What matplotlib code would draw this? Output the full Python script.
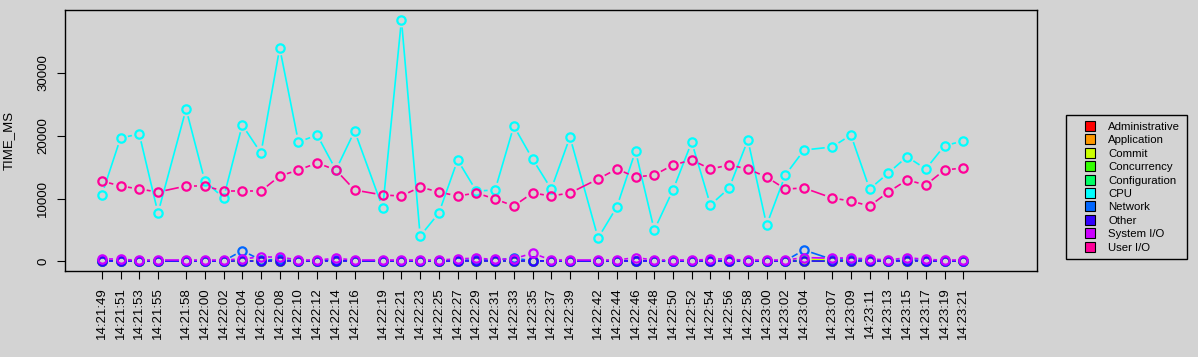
import matplotlib
matplotlib.use('Agg')
import matplotlib.pyplot as plt
from matplotlib.lines import Line2D
import numpy as np

plt.rcParams['font.family'] = ['Liberation Sans', 'DejaVu Sans']

times = ['14:21:49', '14:21:51', '14:21:53', '14:21:55', '14:21:58', '14:22:00', '14:22:02',
         '14:22:04', '14:22:06', '14:22:08', '14:22:10', '14:22:12', '14:22:14', '14:22:16',
         '14:22:19', '14:22:21', '14:22:23', '14:22:25', '14:22:27', '14:22:29', '14:22:31',
         '14:22:33', '14:22:35', '14:22:37', '14:22:39', '14:22:42', '14:22:44', '14:22:46',
         '14:22:48', '14:22:50', '14:22:52', '14:22:54', '14:22:56', '14:22:58', '14:23:00',
         '14:23:02', '14:23:04', '14:23:07', '14:23:09', '14:23:11', '14:23:13', '14:23:15',
         '14:23:17', '14:23:19', '14:23:21']

administrative = [0] * 45
application = [0] * 45
commit = [0, 0, 0, 0, 0, 0, 0, 0, 200, 250, 0, 0, 0, 0, 0, 0, 0, 0, 0, 0, 0, 0, 0,
          0, 0, 0, 0, 0, 0, 0, 0, 0, 0, 0, 0, 0, 300, 250, 0, 0, 0, 0, 0, 0, 0]
concurrency = [0] * 45
configuration = [0] * 45
cpu = [10560, 19630, 20270, 7690, 24250, 12790, 10080, 21700, 17240, 33970,
       18990, 20110, 14540, 20750, 8490, 38420, 4030, 7690, 16130, 11190,
       11350, 21540, 16290, 11510, 19790, 3710, 8650, 17560, 4980, 11350,
       18990, 8960, 11670, 19320, 5780, 13740, 17720, 18200, 20110, 11510,
       14060, 16650, 14700, 18410, 19150]
network = [100, 100, 50, 50, 50, 50, 50, 1700, 200, 300, 50, 100, 200, 50, 100,
           50, 50, 50, 100, 300, 200, 500, 100, 50, 50, 50, 50, 100, 100, 50,
           50, 100, 100, 50, 50, 100, 1800, 300, 300, 200, 50, 300, 100, 50, 50]
other = [30, 30, 30, 30, 30, 30, 30, 60, 30, 30, 30, 30, 30, 30, 30, 30, 30, 30, 30,
         30, 30, 30, 30, 30, 30, 30, 30, 30, 30, 30, 30, 30, 30, 30, 30, 30, 60, 30,
         30, 30, 30, 30, 30, 30, 30]
system_io = [300, 300, 200, 200, 200, 200, 200, 400, 700, 700, 200, 200, 500, 200, 200,
             200, 200, 200, 400, 500, 300, 400, 1300, 200, 200, 200, 200, 600, 200, 200,
             200, 300, 300, 200, 200, 200, 600, 500, 500, 400, 200, 600, 300, 200, 200]
user_io = [12790, 11990, 11510, 11030, 11990, 11990, 11190, 11190, 11190, 13580,
           14540, 15650, 14540, 11350, 10560, 10400, 11830, 11030, 10400, 10880,
           9920, 8810, 10880, 10400, 10880, 13100, 14700, 13420, 13740, 15330,
           16130, 14700, 15330, 14700, 13420, 11510, 11670, 10080, 9600, 8810,
           11030, 12950, 12150, 14540, 14860]

labels = ['Administrative', 'Application', 'Commit', 'Concurrency', 'Configuration',
          'CPU', 'Network', 'Other', 'System I/O', 'User I/O']
series = [administrative, application, commit, concurrency, configuration,
          cpu, network, other, system_io, user_io]
colors = ['#FF0000', '#FF9900', '#CCFF00', '#33FF00', '#00FF66',
          '#00FFFF', '#0066FF', '#3300FF', '#CC00FF', '#FF0099']

# seconds since first sample
def to_sec(t):
    h, m, s = [int(p) for p in t.split(':')]
    return h * 3600 + m * 60 + s
secs = np.array([to_sec(t) for t in times]) - to_sec(times[0])

bg = '#D3D3D3'
fig = plt.figure(figsize=(11.98, 3.57), dpi=100, facecolor=bg)
ax = fig.add_axes([0.0545, 0.2409, 0.8109, 0.7303], facecolor=bg)

ymax = max(max(s) for s in series)
ax.set_xlim(-3.9, 99.85)
ax.set_ylim(-0.04 * ymax, 1.04 * ymax)


# R type="b": lines stop short of each point
def gapped(x, y, color, gap=7.5):
    pts = ax.transData.transform(np.column_stack([x, y]))
    inv = ax.transData.inverted()
    for p0, p1 in zip(pts[:-1], pts[1:]):
        d = p1 - p0
        L = np.hypot(d[0], d[1])
        if L <= 2 * gap:
            continue
        u = d / L
        a, b = inv.transform(np.array([p0 + u * gap, p1 - u * gap]))
        ax.plot([a[0], b[0]], [a[1], b[1]], color=color, lw=1.2, solid_capstyle='butt')


for vals, col in zip(series, colors):
    gapped(secs, np.array(vals, dtype=float), col)
    ax.plot(secs, vals, linestyle='none', marker='o', markersize=6,
            markerfacecolor='none', markeredgecolor=col, markeredgewidth=1.6)

ax.set_xticks(secs)
ax.set_xticklabels(times, rotation=90, fontsize=9.5)
ax.set_yticks([0, 10000, 20000, 30000])
ax.set_yticklabels(['0', '10000', '20000', '30000'], rotation=90, va='center', fontsize=9.5)
ax.tick_params(direction='out', length=5.5, width=0.8, pad=6, colors='black')
for sp in ax.spines.values():
    sp.set_linewidth(1.0)
    sp.set_color('black')

fig.text(8.5 / 1198, 0.606, 'TIME_MS', rotation=90, ha='center', va='center', fontsize=9.5)

handles = [Line2D([], [], linestyle='none', marker='s', markersize=6.5,
                  markerfacecolor=c, markeredgecolor='black', markeredgewidth=0.8)
           for c in colors]
leg = fig.legend(handles, labels, loc='upper left', bbox_to_anchor=(1066 / 1198, 1 - 115 / 357),
                 borderaxespad=0, fontsize=8.2, frameon=True, fancybox=False,
                 edgecolor='black', facecolor=bg, framealpha=1, borderpad=0.6,
                 handlelength=3.0, handletextpad=0.1, labelspacing=0.3)
leg.get_frame().set_linewidth(1.0)

fig.savefig('out.png', dpi=100, facecolor=bg)
